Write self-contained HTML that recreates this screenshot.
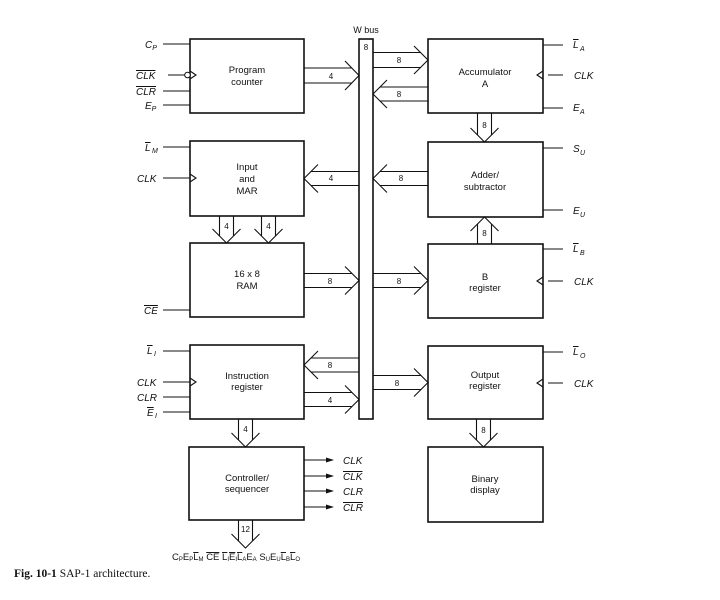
<!DOCTYPE html>
<html><head><meta charset="utf-8"><style>
html,body{margin:0;padding:0;background:#fff;}
svg{display:block;}
text{font-family:"Liberation Sans",sans-serif;fill:#111;}
.b{fill:#fff;stroke:#111;stroke-width:1.6;}
.l{stroke:#111;stroke-width:1.1;fill:none;}
.t{font-size:9.5px;text-anchor:middle;}
.n{font-size:8px;text-anchor:middle;}
.s{font-size:10px;font-style:italic;}
</style></head><body>
<svg width="720" height="600" viewBox="0 0 720 600" xmlns="http://www.w3.org/2000/svg">
<rect class="b" x="190" y="39" width="114" height="74"/>
<rect class="b" x="190" y="141" width="114" height="75"/>
<rect class="b" x="190" y="243" width="114" height="74"/>
<rect class="b" x="190" y="345" width="114" height="74"/>
<rect class="b" x="189" y="447" width="115" height="73"/>
<rect class="b" x="428" y="39" width="115" height="74"/>
<rect class="b" x="428" y="142" width="115" height="75"/>
<rect class="b" x="428" y="244" width="115" height="74"/>
<rect class="b" x="428" y="346" width="115" height="73"/>
<rect class="b" x="428" y="447" width="115" height="75"/>
<rect class="b" x="359" y="39" width="14" height="380"/>
<text class="t" x="366" y="33" style="font-size:9px">W bus</text>
<text class="n" x="366" y="50">8</text>
<text class="t" x="247" y="73">Program</text><text class="t" x="247" y="85">counter</text>
<text class="t" x="247" y="170">Input</text><text class="t" x="247" y="182">and</text><text class="t" x="247" y="194">MAR</text>
<text class="t" x="247" y="277">16 x 8</text><text class="t" x="247" y="289">RAM</text>
<text class="t" x="247" y="379">Instruction</text><text class="t" x="247" y="390">register</text>
<text class="t" x="247" y="481">Controller/</text><text class="t" x="247" y="492">sequencer</text>
<text class="t" x="485" y="75">Accumulator</text><text class="t" x="485" y="87">A</text>
<text class="t" x="485" y="178">Adder/</text><text class="t" x="485" y="190">subtractor</text>
<text class="t" x="485" y="280">B</text><text class="t" x="485" y="291">register</text>
<text class="t" x="485" y="378">Output</text><text class="t" x="485" y="389">register</text>
<text class="t" x="485" y="482">Binary</text><text class="t" x="485" y="493">display</text>
<g class="l">
<path d="M304 68H352M304 83H352M345 61L359 75.5L345 90"/>
<path d="M373 52.5H421M373 67.5H421M414 46L428 60L414 74"/>
<path d="M428 87H380M428 101H380M387 80L373 94L387 108"/>
<path d="M428 171.5H380M428 185.5H380M387 164.5L373 178.5L387 192.5"/>
<path d="M359 171.5H311M359 185.5H311M318 164.5L304 178.5L318 192.5"/>
<path d="M304 273.5H352M304 287.5H352M345 266.5L359 280.5L345 294.5"/>
<path d="M373 273.5H421M373 287.5H421M414 266.5L428 280.5L414 294.5"/>
<path d="M359 358H311M359 372H311M318 351L304 365L318 379"/>
<path d="M304 392.5H352M304 406.5H352M345 385.5L359 399.5L345 413.5"/>
<path d="M373 375.5H421M373 389.5H421M414 368.5L428 382.5L414 396.5"/>
<path d="M219.5 216V236M233.5 216V236M212.5 229L226.5 243L240.5 229"/>
<path d="M261.5 216V236M275.5 216V236M254.5 229L268.5 243L282.5 229"/>
<path d="M477.5 113V135M491.5 113V135M470.5 128L484.5 142L498.5 128"/>
<path d="M477.5 244V224M491.5 244V224M470.5 231L484.5 217L498.5 231"/>
<path d="M476.5 419V440M490.5 419V440M469.5 433L483.5 447L497.5 433"/>
<path d="M238.5 419V440M252.5 419V440M231.5 433L245.5 447L259.5 433"/>
<path d="M238.5 520V541M252.5 520V541M231.5 534L245.5 548L259.5 534"/>
<path d="M163 44H190M168 75H186M163 91H190M163 105H190"/>
<path d="M163 147H190M163 178H190M163 310H190"/>
<path d="M163 351H190M163 382H190M163 397H190M163 412H190"/>
<path d="M543 45H563M548 75H563M543 108H563M543 148H563M543 210H563"/>
<path d="M543 249H563M548 281H563M543 352H563M548 383H563"/>
<path d="M190 71L196 75L190 79M190 174L196 178L190 182M190 378L196 382L190 386"/>
<path d="M543 71L537 75L543 79M543 277L537 281L543 285M543 379L537 383L543 387"/>
<path d="M304 460H328M304 476H328M304 491H328M304 507H328"/>
</g>
<circle cx="187.5" cy="75" r="2.8" fill="#fff" stroke="#111" stroke-width="1"/>
<g fill="#111">
<path d="M334 460L326 457.5V462.5Z"/><path d="M334 476L326 473.5V478.5Z"/>
<path d="M334 491L326 488.5V493.5Z"/><path d="M334 507L326 504.5V509.5Z"/>
</g>
<text class="n" x="331" y="79">4</text>
<text class="n" x="399" y="63">8</text>
<text class="n" x="399" y="97">8</text>
<text class="n" x="401" y="181">8</text>
<text class="n" x="331" y="181">4</text>
<text class="n" x="330" y="284">8</text>
<text class="n" x="399" y="284">8</text>
<text class="n" x="330" y="368">8</text>
<text class="n" x="330" y="403">4</text>
<text class="n" x="397" y="386">8</text>
<text class="n" x="226.5" y="229">4</text>
<text class="n" x="268.5" y="229">4</text>
<text class="n" x="484.5" y="128">8</text>
<text class="n" x="484.5" y="236">8</text>
<text class="n" x="483.5" y="433">8</text>
<text class="n" x="245.5" y="432">4</text>
<text class="n" x="245.5" y="532">12</text>
<g class="s">
<text x="145" y="48">C<tspan font-size="7" dy="2">P</tspan></text>
<text x="136" y="79" text-decoration="overline">CLK</text>
<text x="136" y="95" text-decoration="overline">CLR</text>
<text x="145" y="109">E<tspan font-size="7" dy="2">P</tspan></text>
<text x="145" y="151" text-decoration="overline">L</text><text x="152" y="153" font-size="7">M</text>
<text x="137" y="182">CLK</text>
<text x="144" y="314" text-decoration="overline">CE</text>
<text x="147" y="354" text-decoration="overline">L</text><text x="154" y="356" font-size="7">I</text>
<text x="137" y="386">CLK</text>
<text x="137" y="401">CLR</text>
<text x="147" y="416" text-decoration="overline">E</text><text x="155" y="418" font-size="7">I</text>
<text x="573" y="48" text-decoration="overline">L</text><text x="580" y="51" font-size="7">A</text>
<text x="574" y="79">CLK</text>
<text x="573" y="111">E</text><text x="580" y="114" font-size="7">A</text>
<text x="573" y="152">S</text><text x="580" y="155" font-size="7">U</text>
<text x="573" y="214">E</text><text x="580" y="217" font-size="7">U</text>
<text x="573" y="252" text-decoration="overline">L</text><text x="580" y="255" font-size="7">B</text>
<text x="574" y="285">CLK</text>
<text x="573" y="355" text-decoration="overline">L</text><text x="580" y="358" font-size="7">O</text>
<text x="574" y="387">CLK</text>
<text x="343" y="464">CLK</text>
<text x="343" y="480" text-decoration="overline">CLK</text>
<text x="343" y="495">CLR</text>
<text x="343" y="511" text-decoration="overline">CLR</text>
</g>
<text x="172" y="560" style="font-size:9.5px">C<tspan font-size="6" dy="1">P</tspan><tspan dy="-1">E</tspan><tspan font-size="6" dy="1">P</tspan><tspan dy="-1" text-decoration="overline">L</tspan><tspan font-size="6" dy="1">M</tspan><tspan dy="-1"> </tspan><tspan text-decoration="overline">CE</tspan><tspan> </tspan><tspan text-decoration="overline">L</tspan><tspan font-size="6" dy="1">I</tspan><tspan dy="-1" text-decoration="overline">E</tspan><tspan font-size="6" dy="1">I</tspan><tspan dy="-1" text-decoration="overline">L</tspan><tspan font-size="6" dy="1">A</tspan><tspan dy="-1">E</tspan><tspan font-size="6" dy="1">A</tspan><tspan dy="-1"> S</tspan><tspan font-size="6" dy="1">U</tspan><tspan dy="-1">E</tspan><tspan font-size="6" dy="1">U</tspan><tspan dy="-1" text-decoration="overline">L</tspan><tspan font-size="6" dy="1">B</tspan><tspan dy="-1" text-decoration="overline">L</tspan><tspan font-size="6" dy="1">O</tspan></text>
<text x="14" y="577" style="font-family:'Liberation Serif',serif;font-size:11.5px"><tspan font-weight="bold">Fig. 10-1</tspan> SAP-1 architecture.</text>
</svg>
</body></html>
